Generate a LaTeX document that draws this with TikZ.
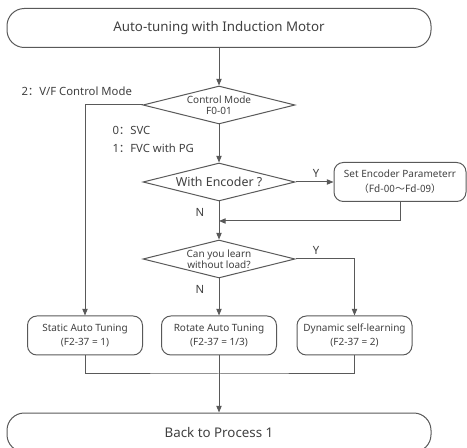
\documentclass[tikz,border=0pt]{standalone}
\usepackage{fontspec}
\setmainfont{Noto Sans}
\newfontfamily\cjk{Noto Sans CJK SC}
\usepackage{tikz}
\usetikzlibrary{shapes.geometric,arrows.meta}
\definecolor{linegray}{HTML}{595959}
\definecolor{textgray}{HTML}{404040}

\begin{document}
\begin{tikzpicture}[x=0.75pt,y=-0.75pt,line width=0.75pt,color=linegray,text=textgray,
    term/.style={draw,rectangle,rounded corners=13pt,minimum width=318pt,minimum height=29.25pt,font=\fontsize{10}{12}\selectfont},
    decision/.style={draw,diamond,aspect=4,inner sep=0pt,minimum width=114pt,minimum height=28.5pt,align=center,font=\fontsize{7.5}{8.5}\selectfont},
    process/.style={draw,rectangle,rounded corners=7pt,minimum width=86.25pt,minimum height=29.25pt,inner sep=1pt,align=center,font=\fontsize{7.5}{11}\selectfont},
    lbl/.style={inner sep=0pt,font=\fontsize{8.5}{10}\selectfont},
    arr/.style={-{Triangle[length=5pt,width=4pt]}}]
        \useasboundingbox (0,0) rectangle (467,448);
        % Top
        \node[term] (start) at (219,28) {Auto-tuning with Induction Motor};
        % Decisions
        \node[decision] (mode) at (219,105) {Control Mode\\F0-01};
        \node[decision,font=\fontsize{9.3}{11}\selectfont] (enc) at (219,182) {With Encoder ?};
        \node[process,minimum width=99pt] (setenc) at (400,182) {Set Encoder Parameterr\\{\cjk （Fd-00～Fd-09）}};
        \node[decision] (load) at (219,259) {Can you learn\\without load?};
        % Tuning modes
        \node[process] (static) at (85,335.5) {Static Auto Tuning\\(F2-37 = 1)};
        \node[process] (rotate) at (219,335.5) {Rotate Auto Tuning\\(F2-37 = 1/3)};
        \node[process] (dyn) at (354.5,335.5) {Dynamic self-learning\\(F2-37 = 2)};
        % Bottom
        \node[term] (back) at (219,432.5) {Back to Process 1};
        \coordinate (merge) at (219,221);
        \coordinate (join) at (219,374);
        % Labels
        \node[lbl,anchor=west] (vf) at (21,91) {2{\cjk ：}V/F Control Mode};
        \node[lbl,anchor=west] (svc) at (112,130) {0{\cjk ：}SVC};
        \node[lbl,anchor=west] (fvc) at (112,148) {1{\cjk ：}FVC with PG};
        \node[lbl] (y1) at (316,173) {Y};
        \node[lbl] (n1) at (200,212) {N};
        \node[lbl] (y2) at (316,250) {Y};
        \node[lbl] (n2) at (200,289) {N};
        % Edges
        \draw[arr] (start) -- (mode);
        \draw[arr] (mode) -- (enc);
        \draw[arr] (mode.west) -| (static);
        \draw[arr] (enc) -- (setenc);
        \draw[arr] (setenc) |- (merge);
        \draw[arr] (enc) -- (load);
        \draw[arr] (load) -- (rotate);
        \draw[arr] (load.east) -| (dyn);
        \draw (static) |- (join) -| (dyn);
        \draw[arr] (rotate) -- (back);
    \end{tikzpicture}
\end{document}
